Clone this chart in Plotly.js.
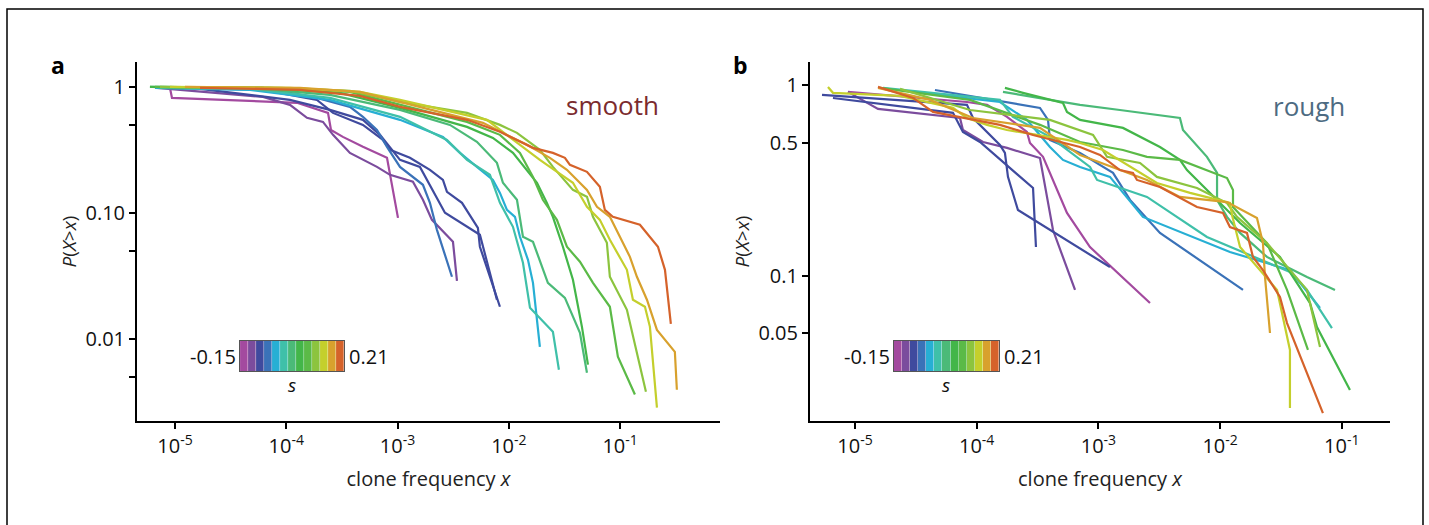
<!DOCTYPE html>
<html><head><meta charset="utf-8">
<script src="https://cdn.plot.ly/plotly-3.0.1.min.js"></script>
<style>html,body{margin:0;padding:0;background:#fff}#chart{width:1429px;height:525px}</style>
</head><body><div id="chart"></div>
<script>
// selection coefficient s and its colour scale
const sValues = [-0.15,-0.12,-0.09,-0.06,-0.03,0,0.03,0.06,0.09,0.12,0.15,0.18,0.21];
const sColors = ['#a34a9f','#7b4c9d','#3f4a9e','#3a72b8','#27afd4','#3fc0a9','#4bba78','#43b649','#5bba47','#8cc43e','#c4cf2c','#d8a12d','#d5622a'];

const xTickVals = [1e-5,1e-4,1e-3,1e-2,1e-1];
const xTickText = ['10<sup>-5</sup>','10<sup>-4</sup>','10<sup>-3</sup>','10<sup>-2</sup>','10<sup>-1</sup>'];
const smoothYTickVals = [1,0.5,0.1,0.05,0.01,0.005];
const smoothYTickText = ['1','','0.10','','0.01',''];
const roughYTickVals = [1,0.5,0.1,0.05];
const roughYTickText = ['1','0.5','0.1','0.05'];

// panel a ("smooth"): s of each curve, log10 clone frequency, log10 P(X>x)
const smoothS = [-0.15,-0.12,-0.09,-0.09,-0.06,-0.03,0,0.03,0.06,0.09,0.12,0.15,0.18,0.21];
const smoothLogX = [
 [-5.045,-5.027,-3.904,-3.670,-3.625,-3.598,-3.491,-3.311,-3.095,-2.996],
 [-5.162,-4.209,-3.967,-3.814,-3.670,-3.580,-3.428,-3.185,-3.068,-2.862,-2.772,-2.691,-2.502,-2.466],
 [-5.000,-4.209,-3.724,-3.580,-3.311,-3.131,-3.068,-2.889,-2.709,-2.592,-2.556,-2.421,-2.278,-2.260,-2.080],
 [-4.775,-3.967,-3.607,-3.311,-3.158,-2.978,-2.799,-2.574,-2.260,-2.107],
 [-5.090,-4.209,-3.724,-3.428,-3.311,-3.185,-3.095,-2.978,-2.772,-2.709,-2.646,-2.511],
 [-5.180,-4.326,-3.607,-2.978,-2.592,-2.439,-2.287,-2.143,-2.080,-2.017,-1.945,-1.900,-1.828,-1.783,-1.721],
 [-5.135,-4.326,-3.607,-2.978,-2.556,-2.376,-2.170,-2.080,-1.963,-1.873,-1.810,-1.604,-1.550],
 [-5.225,-4.326,-3.607,-2.978,-2.529,-2.287,-2.107,-2.053,-1.927,-1.873,-1.783,-1.649,-1.496,-1.361,-1.298],
 [-5.225,-4.236,-3.518,-2.978,-2.376,-2.143,-1.963,-1.837,-1.747,-1.658,-1.604,-1.514,-1.424,-1.343,-1.289],
 [-5.180,-4.146,-3.428,-2.978,-2.376,-2.080,-1.900,-1.783,-1.694,-1.568,-1.478,-1.361,-1.244,-1.092,-1.020,-0.867],
 [-5.135,-4.057,-3.428,-2.978,-2.376,-2.080,-1.927,-1.721,-1.604,-1.424,-1.298,-1.244,-1.119,-1.092,-0.939,-0.768],
 [-5.045,-3.967,-3.338,-2.978,-2.197,-1.963,-1.721,-1.631,-1.424,-1.298,-1.182,-1.092,-1.002,-0.939,-0.885,-0.777,-0.732,-0.669],
 [-4.910,-3.877,-3.338,-2.978,-2.233,-1.837,-1.631,-1.478,-1.298,-1.208,-1.092,-1.002,-0.912,-0.849,-0.759,-0.669,-0.508,-0.490],
 [-4.775,-3.877,-3.338,-2.978,-2.376,-2.080,-1.783,-1.604,-1.496,-1.451,-1.298,-1.182,-1.137,-1.065,-0.822,-0.660,-0.597,-0.544]
];
const smoothLogP = [
 [-0.006,-0.085,-0.124,-0.196,-0.204,-0.339,-0.394,-0.473,-0.560,-1.036],
 [-0.006,-0.077,-0.140,-0.243,-0.275,-0.378,-0.521,-0.632,-0.695,-0.750,-0.893,-1.052,-1.226,-1.535],
 [-0.006,-0.021,-0.101,-0.204,-0.299,-0.418,-0.497,-0.560,-0.655,-0.735,-0.830,-0.917,-1.115,-1.265,-1.741],
 [-0.013,-0.101,-0.180,-0.259,-0.378,-0.576,-0.632,-0.996,-1.170,-1.685],
 [-0.006,-0.006,-0.085,-0.156,-0.235,-0.339,-0.473,-0.632,-0.774,-0.917,-1.131,-1.503],
 [-0.006,-0.021,-0.101,-0.259,-0.394,-0.521,-0.632,-0.735,-0.838,-0.973,-1.028,-1.186,-1.369,-1.551,-2.058],
 [-0.006,-0.013,-0.085,-0.235,-0.418,-0.576,-0.695,-0.917,-1.107,-1.392,-1.749,-1.939,-2.240],
 [0.002,-0.006,-0.061,-0.180,-0.299,-0.433,-0.600,-0.758,-0.893,-1.186,-1.226,-1.551,-1.670,-1.947,-2.264],
 [0.002,-0.006,-0.045,-0.164,-0.315,-0.402,-0.521,-0.655,-0.758,-0.917,-1.028,-1.265,-1.527,-1.900,-2.200],
 [0.002,-0.006,-0.037,-0.140,-0.275,-0.378,-0.521,-0.711,-0.893,-1.052,-1.265,-1.384,-1.551,-1.741,-2.137,-2.437],
 [0.002,-0.006,-0.029,-0.116,-0.204,-0.299,-0.362,-0.497,-0.632,-0.814,-0.869,-1.028,-1.234,-1.503,-1.765,-2.415],
 [0.002,-0.006,-0.037,-0.101,-0.259,-0.418,-0.576,-0.632,-0.758,-0.949,-1.052,-1.210,-1.353,-1.448,-1.685,-1.741,-1.900,-2.541],
 [0.002,-0.006,-0.037,-0.116,-0.283,-0.457,-0.560,-0.655,-0.814,-0.949,-1.028,-1.186,-1.345,-1.503,-1.685,-1.924,-2.098,-2.399],
 [-0.006,-0.021,-0.069,-0.156,-0.259,-0.354,-0.481,-0.521,-0.560,-0.616,-0.671,-0.790,-0.973,-1.028,-1.091,-1.265,-1.448,-1.876]
];

// panel b ("rough")
const roughS = [-0.15,-0.12,-0.09,-0.09,-0.06,-0.03,0,0.03,0.06,0.09,0.12,0.15,0.18,0.21];
const roughLogX = [
 [-5.058,-4.080,-3.915,-3.751,-3.587,-3.562,-3.455,-3.373,-3.258,-3.069,-2.576],
 [-5.058,-4.811,-4.137,-4.113,-3.948,-3.751,-3.480,-3.373,-3.192],
 [-5.271,-4.080,-4.030,-3.809,-3.768,-3.743,-3.661,-2.905],
 [-5.181,-4.195,-4.113,-3.973,-3.537,-3.513],
 [-4.343,-3.480,-3.414,-3.398,-3.151,-2.880,-2.740,-2.494,-1.812],
 [-4.523,-3.809,-3.587,-3.398,-3.291,-3.151,-2.905,-2.634,-1.919,-1.426,-1.179],
 [-4.770,-3.809,-3.702,-3.398,-3.069,-3.011,-2.601,-2.108,-1.426,-1.286,-1.081],
 [-3.784,-3.151,-2.823,-2.330,-2.305,-2.108,-2.025,-2.025,-1.943,-1.836,-1.615,-1.286,-1.056],
 [-3.768,-3.620,-3.291,-3.258,-3.151,-2.798,-2.494,-2.330,-2.272,-2.001,-1.836,-1.508,-1.401,-1.261,-1.204,-0.933],
 [-4.795,-4.055,-3.480,-3.151,-2.798,-2.601,-2.330,-1.943,-1.894,-1.894,-1.615,-1.450,-1.278],
 [-4.630,-4.055,-3.398,-3.151,-3.044,-2.929,-2.658,-2.519,-2.190,-1.943,-1.861,-1.615,-1.286,-1.179],
 [-5.222,-5.181,-4.630,-4.195,-4.080,-3.915,-3.751,-3.258,-3.151,-2.962,-2.519,-2.247,-1.919,-1.902,-1.836,-1.532,-1.426,-1.426],
 [-4.811,-4.384,-4.030,-3.480,-3.151,-2.823,-2.601,-2.330,-1.943,-1.697,-1.648,-1.631,-1.590],
 [-4.811,-4.523,-4.359,-4.030,-3.809,-3.537,-3.151,-2.987,-2.823,-2.716,-2.683,-2.494,-2.190,-1.976,-1.919,-1.779,-1.730,-1.648,-1.508,-1.450,-1.155]
];
const roughLogP = [
 [-0.034,-0.087,-0.102,-0.165,-0.244,-0.302,-0.375,-0.496,-0.669,-0.848,-1.142],
 [-0.034,-0.123,-0.171,-0.234,-0.297,-0.328,-0.381,-0.759,-1.073],
 [-0.050,-0.102,-0.171,-0.312,-0.354,-0.480,-0.654,-0.953],
 [-0.066,-0.144,-0.244,-0.297,-0.538,-0.848],
 [-0.024,-0.118,-0.181,-0.286,-0.354,-0.459,-0.601,-0.774,-1.073],
 [-0.034,-0.087,-0.181,-0.323,-0.391,-0.428,-0.480,-0.690,-0.874,-0.969,-1.168],
 [-0.013,-0.076,-0.165,-0.270,-0.428,-0.496,-0.585,-0.795,-0.979,-1.073,-1.273],
 [-0.034,-0.102,-0.129,-0.171,-0.234,-0.375,-0.459,-0.601,-0.690,-0.774,-0.900,-1.005,-1.073],
 [-0.013,-0.039,-0.092,-0.139,-0.181,-0.223,-0.323,-0.391,-0.444,-0.617,-0.722,-0.900,-1.005,-1.142,-1.268,-1.598],
 [-0.013,-0.076,-0.207,-0.297,-0.339,-0.375,-0.391,-0.486,-0.549,-0.638,-0.827,-1.073,-1.388],
 [-0.018,-0.129,-0.181,-0.234,-0.260,-0.375,-0.407,-0.480,-0.538,-0.617,-0.690,-0.827,-1.073,-1.373],
 [-0.008,-0.039,-0.055,-0.118,-0.171,-0.207,-0.234,-0.286,-0.302,-0.339,-0.512,-0.564,-0.617,-0.680,-0.848,-1.073,-1.388,-1.693],
 [-0.013,-0.076,-0.171,-0.223,-0.365,-0.444,-0.496,-0.585,-0.612,-0.696,-0.827,-1.005,-1.299],
 [-0.008,-0.066,-0.139,-0.181,-0.207,-0.260,-0.323,-0.365,-0.444,-0.459,-0.496,-0.533,-0.638,-0.669,-0.743,-0.774,-0.900,-0.969,-1.110,-1.247,-1.719]
];

const FONT = '"Open Sans", "Noto Sans", sans-serif';
const colorOf = s => sColors[sValues.indexOf(s)];
const pow10 = a => a.map(v => Math.pow(10, v));

const traces = [];
function addPanel(sArr, lx, lp, xa, ya) {
  sArr.forEach((s, i) => {
    traces.push({type:'scatter', mode:'lines', x: pow10(lx[i]), y: pow10(lp[i]),
      xaxis: xa, yaxis: ya, line:{color: colorOf(s), width: 2.2}, hoverinfo:'skip', showlegend:false});
  });
}
addPanel(smoothS, smoothLogX, smoothLogP, 'x', 'y');
addPanel(roughS, roughLogX, roughLogP, 'x2', 'y2');

// discrete colour bars
const stepScale = [];
sColors.forEach((c, i) => { stepScale.push([i/sColors.length, c]); stepScale.push([(i+1)/sColors.length, c]); });
[['x3','y3'],['x4','y4']].forEach(([xa, ya]) => {
  traces.push({type:'heatmap', z:[sValues], x: sValues.map((_, i) => i), y:[0],
    colorscale: stepScale, zmin: sValues[0], zmax: sValues[sValues.length-1],
    showscale:false, hoverinfo:'skip', xaxis: xa, yaxis: ya, xgap: 0.4});
});

const axisCommon = {type:'log', showline:true, linecolor:'#000', linewidth:2, ticks:'outside',
  ticklen:6, tickwidth:2, tickcolor:'#000', showgrid:false, zeroline:false,
  tickfont:{family:FONT, size:20, color:'#111'}};
const barAxis = {showline:true, mirror:true, linecolor:'#555', linewidth:1, showgrid:false,
  zeroline:false, showticklabels:false, ticks:'', fixedrange:true};

const yDom = [0.198, 0.882];
const ann = (text, x, y, size, color, xanchor) => ({text, xref:'paper', yref:'paper', x, y,
  xanchor: xanchor || 'center', yanchor:'middle', showarrow:false, font:{family:FONT, size, color}});
const layout = {
  width:1429, height:525, margin:{l:0, r:0, t:0, b:0}, paper_bgcolor:'#fff', plot_bgcolor:'rgba(0,0,0,0)',
  showlegend:false, font:{family:FONT, color:'#111'},
  xaxis: Object.assign({}, axisCommon, {domain:[0.0959, 0.5038], range:[-5.341, -0.103],
    tickvals:xTickVals, ticktext:xTickText, anchor:'y',
    title:{text:'clone frequency <i>x</i>', font:{family:FONT, size:20, color:'#222'}, standoff:14}}),
  yaxis: Object.assign({}, axisCommon, {domain:yDom, range:[-2.647, 0.2], anchor:'x',
    tickvals:smoothYTickVals, ticktext:smoothYTickText,
    title:{text:'<i>P</i>(<i>X</i>><i>x</i>)', font:{family:FONT, size:19, color:'#222'}, standoff:4}}),
  xaxis2: Object.assign({}, axisCommon, {domain:[0.5668, 0.9727], range:[-5.370, -0.604],
    tickvals:xTickVals, ticktext:xTickText, anchor:'y2',
    title:{text:'clone frequency <i>x</i>', font:{family:FONT, size:20, color:'#222'}, standoff:14}}),
  yaxis2: Object.assign({}, axisCommon, {domain:yDom, range:[-1.761, 0.123], anchor:'x2',
    tickvals:roughYTickVals, ticktext:roughYTickText,
    title:{text:'<i>P</i>(<i>X</i>><i>x</i>)', font:{family:FONT, size:19, color:'#222'}, standoff:4}}),
  xaxis3: Object.assign({}, barAxis, {domain:[0.1680, 0.2407], range:[-0.5, 12.5], anchor:'y3'}),
  yaxis3: Object.assign({}, barAxis, {domain:[0.2933, 0.3505], range:[-0.5, 0.5], anchor:'x3'}),
  xaxis4: Object.assign({}, barAxis, {domain:[0.6256, 0.6991], range:[-0.5, 12.5], anchor:'y4'}),
  yaxis4: Object.assign({}, barAxis, {domain:[0.2933, 0.3505], range:[-0.5, 0.5], anchor:'x4'}),
  shapes:[{type:'rect', xref:'paper', yref:'paper', x0:0.0049, x1:0.9958, y0:-0.05, y1:0.9829,
    line:{color:'#000', width:1.5}}],
  annotations:[
    ann('<b>a</b>', 0.0406, 0.876, 23, '#000'),
    ann('<b>b</b>', 0.518, 0.876, 23, '#000'),
    ann('smooth', 0.4283, 0.800, 26, '#7b2b2e'),
    ann('rough', 0.9160, 0.798, 26, '#4d6b82'),
    ann('-0.15', 0.1665, 0.3219, 20, '#111', 'right'),
    ann('0.21', 0.2425, 0.3219, 20, '#111', 'left'),
    ann('<i>s</i>', 0.2043, 0.2667, 19, '#111'),
    ann('-0.15', 0.6242, 0.3219, 20, '#111', 'right'),
    ann('0.21', 0.7009, 0.3219, 20, '#111', 'left'),
    ann('<i>s</i>', 0.6623, 0.2667, 19, '#111')
  ]
};
Plotly.newPlot('chart', traces, layout, {staticPlot:true, displayModeBar:false});
</script></body></html>
